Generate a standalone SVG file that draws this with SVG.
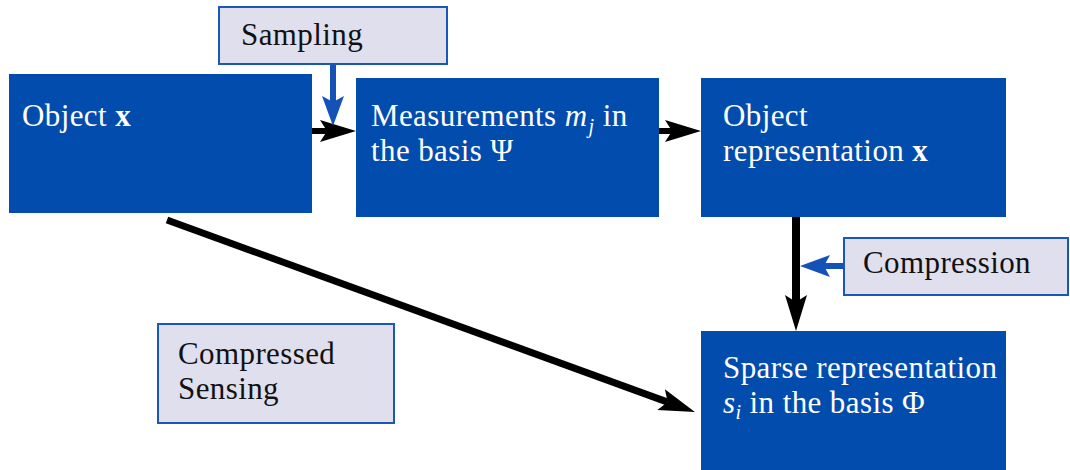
<svg xmlns="http://www.w3.org/2000/svg" width="1070" height="470" viewBox="0 0 1070 470">
  <style>
    .box { fill: #024cae; }
    .tag { fill: #dfdfee; stroke: #1b57b8; stroke-width: 2; }
    text { font-family: "Liberation Serif", "DejaVu Serif", serif; font-size: 31px; letter-spacing: 0.4px; }
    .w { fill: #ffffff; }
    .k { fill: #111111; }
    .b { font-weight: bold; }
    .it { font-style: italic; }
    .sub { font-size: 20px; font-style: italic; }
    .blk { stroke: #000000; fill: none; stroke-linecap: butt; }
    .blu { stroke: #1452b8; fill: none; stroke-width: 6; }
  </style>
  <defs>
    <!-- stealth heads, reference point at the notch so the shaft ends there -->
    <marker id="headK" markerUnits="userSpaceOnUse" viewBox="-7 -11 36 22" markerWidth="36" markerHeight="22" refX="0" refY="0" orient="auto" overflow="visible">
      <path d="M29,0 L-7,-11 L0,0 L-7,11 Z" fill="#000000"/>
    </marker>
    <marker id="headB" markerUnits="userSpaceOnUse" viewBox="-6 -11 30 22" markerWidth="30" markerHeight="22" refX="0" refY="0" orient="auto" overflow="visible">
      <path d="M24,0 L-6,-11 L0,0 L-6,11 Z" fill="#1452b8"/>
    </marker>
  </defs>

  <g id="connectors">
    <line class="blk" x1="312" y1="131" x2="327" y2="131" stroke-width="6" marker-end="url(#headK)"/>
    <line class="blk" x1="659" y1="131" x2="672" y2="131" stroke-width="6" marker-end="url(#headK)"/>
    <line class="blk" x1="796" y1="217" x2="796" y2="302" stroke-width="8" marker-end="url(#headK)"/>
    <line class="blk" x1="167" y1="220" x2="667.7" y2="402.1" stroke-width="7" marker-end="url(#headK)"/>
    <line class="blu" x1="333" y1="64" x2="333" y2="102" marker-end="url(#headB)"/>
    <line class="blu" x1="843" y1="266" x2="824" y2="266" marker-end="url(#headB)"/>
  </g>

  <g id="node-object">
    <rect class="box" x="9" y="74" width="303" height="139"/>
    <text class="w" x="22" y="126">Object <tspan class="b">x</tspan></text>
  </g>

  <g id="node-measurements">
    <rect class="box" x="356" y="78" width="303" height="139"/>
    <text class="w" x="371" y="126">Measurements <tspan class="it">m</tspan><tspan class="sub" dx="1" dy="7">j</tspan><tspan dy="-7"> in</tspan></text>
    <text class="w" x="371" y="161">the basis Ψ</text>
  </g>

  <g id="node-representation">
    <rect class="box" x="701" y="78" width="305" height="139"/>
    <text class="w" x="723" y="126">Object</text>
    <text class="w" x="723" y="161">representation <tspan class="b">x</tspan></text>
  </g>

  <g id="node-sparse">
    <rect class="box" x="701" y="331" width="305" height="139"/>
    <text class="w" x="723" y="378">Sparse representation</text>
    <text class="w" x="723" y="413"><tspan class="it">s</tspan><tspan class="sub" dy="6">i</tspan><tspan dy="-6"> in the basis Φ</tspan></text>
  </g>

  <g id="label-sampling">
    <rect class="tag" x="219" y="7" width="228" height="57"/>
    <text class="k" x="241" y="45">Sampling</text>
  </g>

  <g id="label-compression">
    <rect class="tag" x="844" y="238" width="224" height="57"/>
    <text class="k" x="863" y="273">Compression</text>
  </g>

  <g id="label-cs">
    <rect class="tag" x="158" y="324" width="236" height="99"/>
    <text class="k" x="178" y="364">Compressed</text>
    <text class="k" x="178" y="399">Sensing</text>
  </g>
</svg>
